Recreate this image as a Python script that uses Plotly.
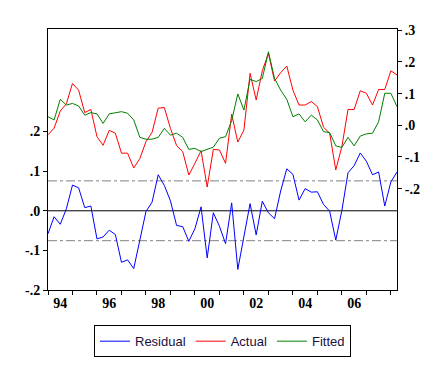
import plotly.graph_objects as go

start_year = 1994
residual = [-0.058, -0.015, -0.034, 0.005, 0.065, 0.058, 0.008, 0.012, -0.071, -0.066,
            -0.049, -0.060, -0.130, -0.124, -0.146, -0.072, -0.002, 0.022, 0.091, 0.064,
            0.025, -0.037, -0.040, -0.077, -0.045, 0.010, -0.119, -0.005, -0.039, -0.083,
            0.020, -0.148, -0.068, 0.018, -0.061, 0.024, -0.005, -0.020, 0.050, 0.106,
            0.092, 0.027, 0.056, 0.047, 0.048, 0.016, -0.001, -0.074, 0.001, 0.096,
            0.114, 0.146, 0.125, 0.091, 0.098, 0.012, 0.073, 0.098]
actual = [-0.030, -0.009, 0.045, 0.068, 0.132, 0.111, 0.040, 0.050, -0.036, -0.063,
          -0.016, -0.025, -0.088, -0.088, -0.135, -0.105, -0.052, -0.022, 0.054, 0.056,
          -0.010, -0.064, -0.083, -0.157, -0.120, -0.080, -0.195, -0.076, -0.078, -0.120,
          0.035, -0.053, -0.015, 0.164, 0.080, 0.172, 0.227, 0.140, 0.166, 0.187,
          0.111, 0.064, 0.064, 0.075, 0.059, -0.006, -0.025, -0.141, -0.067, 0.050,
          0.050, 0.109, 0.101, 0.064, 0.113, 0.113, 0.172, 0.159]
fitted = [0.027, 0.017, 0.082, 0.064, 0.069, 0.061, 0.032, 0.040, 0.036, 0.006,
          0.036, 0.040, 0.043, 0.038, 0.017, -0.038, -0.044, -0.044, -0.038, -0.010,
          -0.031, -0.025, -0.038, -0.076, -0.073, -0.083, -0.076, -0.069, -0.041, -0.036,
          0.015, 0.099, 0.048, 0.145, 0.138, 0.148, 0.232, 0.148, 0.111, 0.082,
          0.027, 0.036, 0.011, 0.032, 0.017, -0.020, -0.023, -0.065, -0.070, -0.038,
          -0.065, -0.034, -0.027, -0.025, 0.011, 0.101, 0.101, 0.059]
std_band = 0.0755

left_ticks = [-0.2, -0.1, 0.0, 0.1, 0.2]
left_text = ["-.2", "-.1", ".0", ".1", ".2"]
right_ticks = [-0.2, -0.1, 0.0, 0.1, 0.2, 0.3]
right_text = ["-.2", "-.1", ".0", ".1", ".2", ".3"]
year_label_vals = [1994.5, 1996.5, 1998.5, 2000.5, 2002.5, 2004.5, 2006.5]
year_label_text = ["94", "96", "98", "00", "02", "04", "06"]
year_ticks = list(range(1994, 2009))

x = [start_year + i / 4 for i in range(len(residual))]
x0, x1 = x[0], x[-1]

tickfont = dict(family="Liberation Serif", size=14, color="black", weight="bold")

fig = go.Figure()
fig.add_trace(go.Scatter(x=x, y=residual, name="Residual", mode="lines",
                         line=dict(color="#0000ff", width=1), yaxis="y"))
fig.add_trace(go.Scatter(x=x, y=actual, name="Actual", mode="lines",
                         line=dict(color="#ff0000", width=1), yaxis="y2"))
fig.add_trace(go.Scatter(x=x, y=fitted, name="Fitted", mode="lines",
                         line=dict(color="#008000", width=1), yaxis="y2"))

for v, c, d in [(0, "black", "solid"), (std_band, "#808080", "dashdot"), (-std_band, "#808080", "dashdot")]:
    fig.add_shape(type="line", xref="x", yref="y", x0=x0, x1=x1, y0=v, y1=v,
                  line=dict(color=c, width=1, dash=d), layer="below")

fig.update_layout(
    width=436, height=365,
    margin=dict(l=40, r=47, t=21, b=83),
    paper_bgcolor="white", plot_bgcolor="white",
    showlegend=True,
    legend=dict(orientation="h", x=0.5, xanchor="center", y=-0.135, yanchor="top",
                bordercolor="black", borderwidth=1, bgcolor="white",
                font=dict(family="Liberation Sans", size=13, color="#1a1040"),
                itemwidth=30, tracegroupgap=0),
    xaxis=dict(range=[x0, x1], showgrid=False, zeroline=False,
               showline=True, linecolor="black", linewidth=1, mirror=True,
               tickvals=year_label_vals, ticktext=year_label_text, ticks="",
               tickfont=tickfont,
               minor=dict(tickvals=year_ticks, ticks="outside", ticklen=4,
                          tickcolor="black", showgrid=False)),
    yaxis=dict(range=[-0.2, 0.459], showgrid=False, zeroline=False,
               showline=True, linecolor="black", linewidth=1,
               tickvals=left_ticks, ticktext=left_text, ticks="outside",
               ticklen=4, tickcolor="black", tickfont=tickfont),
    yaxis2=dict(range=[-0.52, 0.304], overlaying="y", side="right",
                showgrid=False, zeroline=False,
                showline=True, linecolor="black", linewidth=1,
                tickvals=right_ticks, ticktext=right_text, ticks="outside",
                ticklen=4, tickcolor="black", tickfont=tickfont),
)

fig.write_html("out.html")
